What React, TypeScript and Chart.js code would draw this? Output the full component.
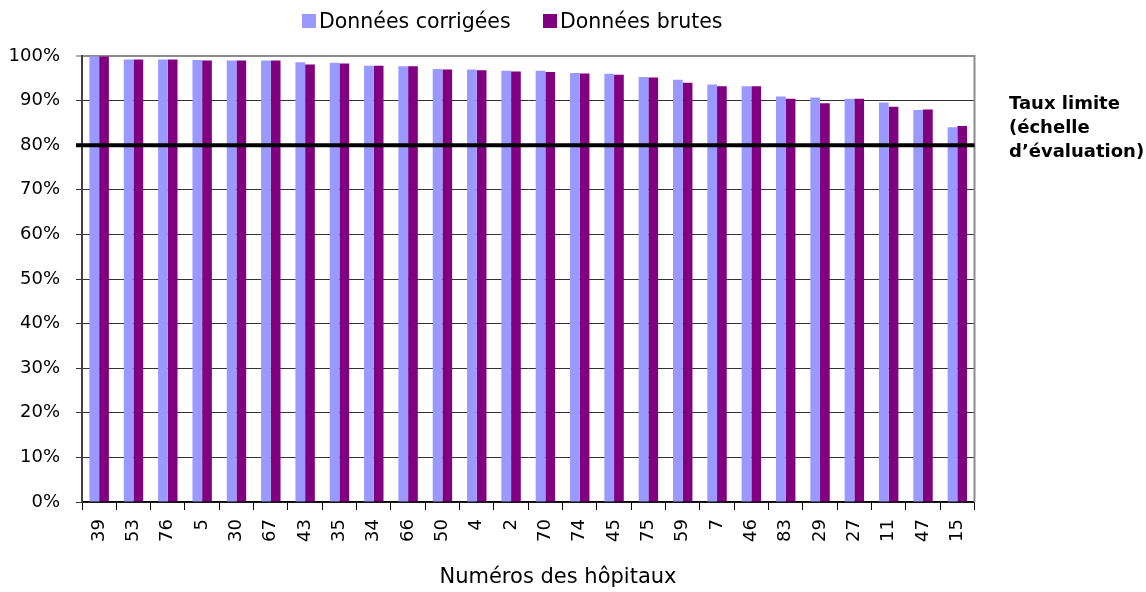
import { useEffect, useRef } from 'react';
import { Chart, registerables } from 'chart.js';

Chart.register(...registerables);

const hospitals = ['39', '53', '76', '5', '30', '67', '43', '35', '34', '66', '50', '4', '2', '70', '74', '45', '75', '59', '7', '46', '83', '29', '27', '11', '47', '15'];
const correctedRates = [99.9, 99.2, 99.2, 99.1, 99.0, 99.0, 98.6, 98.5, 97.8, 97.7, 97.1, 97.0, 96.7, 96.7, 96.2, 96.0, 95.3, 94.7, 93.6, 93.2, 90.9, 90.7, 90.4, 89.6, 87.9, 84.0];
const rawRates = [99.9, 99.2, 99.2, 99.0, 99.0, 99.0, 98.1, 98.3, 97.8, 97.7, 97.0, 96.8, 96.5, 96.4, 96.1, 95.8, 95.2, 94.0, 93.2, 93.2, 90.4, 89.4, 90.4, 88.6, 88.0, 84.3];
const seriesLabels = ['Données corrigées', 'Données brutes'];
const seriesColors = ['#9999FF', '#800080'];
const LIMIT_RATE = 80;
const limitLabelLines = ['Taux limite', '(échelle', 'd’évaluation)'];
const xAxisTitle = 'Numéros des hôpitaux';
const FONT = '"DejaVu Sans", sans-serif';

const decorPlugin = {
  id: 'decor',
  afterDatasetsDraw(chart: any) {
    const { ctx, chartArea, scales } = chart;
    const y80 = scales.y.getPixelForValue(LIMIT_RATE);
    ctx.save();
    // right border of plot
    ctx.strokeStyle = '#8c8c8c';
    ctx.lineWidth = 2;
    ctx.beginPath();
    ctx.moveTo(chartArea.right, chartArea.top - 1);
    ctx.lineTo(chartArea.right, chartArea.bottom);
    ctx.stroke();
    // limit line
    ctx.strokeStyle = '#000';
    ctx.lineWidth = 4;
    ctx.beginPath();
    ctx.moveTo(chartArea.left - 6, y80);
    ctx.lineTo(chartArea.right, y80);
    ctx.stroke();
    ctx.restore();
  },
  afterDraw(chart: any) {
    const { ctx, chartArea } = chart;
    ctx.save();
    ctx.fillStyle = '#000';
    // legend
    ctx.font = `20.5px ${FONT}`;
    ctx.textBaseline = 'alphabetic';
    ctx.textAlign = 'left';
    const legendX = [302, 543];
    seriesLabels.forEach((lab, i) => {
      ctx.fillStyle = seriesColors[i];
      ctx.fillRect(legendX[i], 14, 14, 14);
      ctx.fillStyle = '#000';
      ctx.fillText(lab, legendX[i] + 17, 28);
    });
    // x axis title
    ctx.font = `21px ${FONT}`;
    ctx.textAlign = 'center';
    ctx.fillText(xAxisTitle, 558, 583);
    // limit label
    ctx.font = `bold 18px ${FONT}`;
    ctx.textAlign = 'left';
    limitLabelLines.forEach((t, i) => ctx.fillText(t, 1009, 109 + i * 24));
    ctx.restore();
  },
};

export default function App() {
  const ref = useRef<HTMLCanvasElement>(null);
  useEffect(() => {
    document.body.style.margin = '0';
    document.body.style.overflow = 'hidden';
    Chart.defaults.font.family = FONT;
    Chart.defaults.color = '#000';
    const chart = new Chart(ref.current!, {
      type: 'bar',
      data: {
        labels: hospitals,
        datasets: [
          { label: seriesLabels[0], data: correctedRates, backgroundColor: seriesColors[0] },
          { label: seriesLabels[1], data: rawRates, backgroundColor: seriesColors[1] },
        ],
      },
      options: {
        responsive: false,
        animation: false,
        layout: { padding: { top: 56, right: 171.5, left: 0, bottom: 0 } },
        datasets: { bar: { categoryPercentage: 0.566, barPercentage: 1 } },
        plugins: { legend: { display: false }, tooltip: { enabled: false }, title: { display: false } },
        scales: {
          x: {
            afterFit: (s: any) => { s.height = 90; },
            grid: { display: true, drawOnChartArea: false, drawTicks: true, tickLength: 8, tickColor: '#000', offset: true },
            border: { display: true, color: '#000', width: 1.5 },
            ticks: { minRotation: 90, maxRotation: 90, padding: 9, font: { size: 18 }, color: '#000', autoSkip: false },
          },
          y: {
            min: 0,
            max: 100,
            afterFit: (s: any) => { s.width = 82; },
            grid: {
              color: (c: any) => (c.tick && c.tick.value === 100 ? '#8c8c8c' : '#333'),
              lineWidth: (c: any) => (c.tick && c.tick.value === 100 ? 2 : 1),
              tickColor: (c: any) => (c.tick && c.tick.value === 100 ? '#b0b0b0' : '#333'),
              tickLength: 6,
            },
            border: { display: true, color: '#404040', width: 2 },
            ticks: { stepSize: 10, padding: 16, font: { size: 18 }, color: '#000', callback: (v: any) => `${v}%` },
          },
        },
      },
      plugins: [decorPlugin],
    });
    return () => chart.destroy();
  }, []);
  return (
    <div style={{ width: 1146, height: 592, position: 'relative' }}>
      <canvas ref={ref} width={1146} height={592} style={{ display: 'block', width: 1146, height: 592 }} />
    </div>
  );
}
